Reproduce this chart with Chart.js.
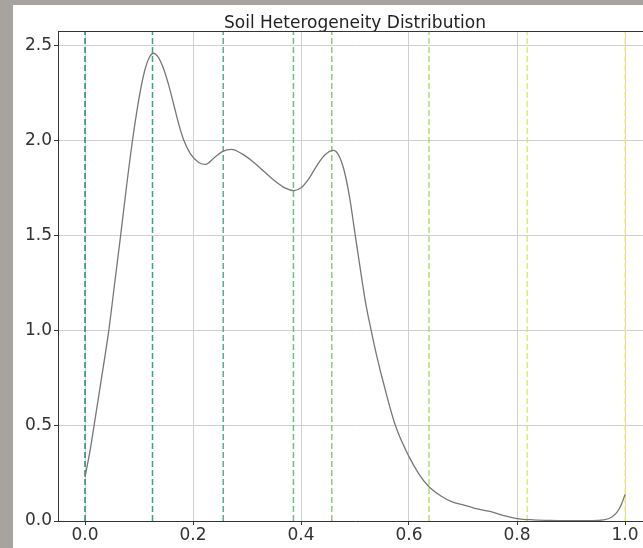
<!DOCTYPE html>
<html>
<head>
<meta charset="utf-8">
<script src="https://cdn.jsdelivr.net/npm/chart.js@4.4.1/dist/chart.umd.min.js"></script>
<style>
  html, body { margin: 0; padding: 0; }
  body { width: 643px; height: 548px; overflow: hidden; background: #a7a39f; position: relative; }
  #fig { position: absolute; left: 13px; top: 5px; width: 630px; height: 543px; background: #fff; overflow: hidden; }
  #chart { position: absolute; left: 0; top: 0; }
</style>
</head>
<body>
<div id="fig"><canvas id="chart" width="660" height="543"></canvas></div>
<script>
// curva de densidad
const densityX = [0, 0.01, 0.0167, 0.03, 0.044, 0.055, 0.066, 0.077, 0.088, 0.10, 0.11, 0.12, 0.127,
    0.135, 0.145, 0.155, 0.165, 0.175, 0.183, 0.195, 0.21, 0.223, 0.24, 0.255, 0.271, 0.29, 0.31,
    0.33, 0.35, 0.37, 0.387, 0.40, 0.415, 0.43, 0.445, 0.46, 0.47, 0.48, 0.49, 0.50, 0.51, 0.52,
    0.53, 0.54, 0.555, 0.575, 0.6, 0.62, 0.637, 0.66, 0.68, 0.70, 0.72, 0.75, 0.78, 0.80, 0.83,
    0.86, 0.9, 0.94, 0.96, 0.975, 0.985, 0.993, 1.0];
const densityY = [0.23, 0.38, 0.5, 0.74, 1.0, 1.25, 1.5, 1.76, 2.0, 2.22, 2.36, 2.44, 2.457,
    2.44, 2.38, 2.29, 2.18, 2.07, 2.0, 1.93, 1.885, 1.873, 1.91, 1.942, 1.952, 1.93, 1.89,
    1.84, 1.79, 1.75, 1.736, 1.75, 1.8, 1.87, 1.925, 1.947, 1.92, 1.84, 1.70, 1.51, 1.32, 1.14,
    1.0, 0.87, 0.7, 0.5, 0.338, 0.24, 0.18, 0.13, 0.10, 0.085, 0.068, 0.05, 0.025, 0.013, 0.006,
    0.003, 0.002, 0.002, 0.006, 0.02, 0.045, 0.085, 0.139];

// lineas verticales discontinuas (colormap summer)
const markerX = [0.0, 0.125, 0.256, 0.386, 0.457, 0.637, 0.819, 1.0];
const markerColors = ['#007a66', '#1f8f70', '#3aa072', '#5aae70', '#7dbd66', '#a8d45e', '#d4e860', '#f2f25a'];

const xTicks = [0.0, 0.2, 0.4, 0.6, 0.8, 1.0];
const yTicks = [0.0, 0.5, 1.0, 1.5, 2.0, 2.5];
const xMin = -0.05, xMax = 1.05;
const yMin = 0, yMax = 2.574;

const datasets = markerX.map((v, i) => ({
    data: [{ x: v, y: yMin }, { x: v, y: yMax }],
    borderColor: markerColors[i] + 'd8',
    borderWidth: 1.5,
    borderDash: [6, 3],
    pointRadius: 0,
    order: 2
}));
datasets.push({
    data: densityX.map((x, i) => ({ x: x, y: densityY[i] })),
    borderColor: '#777777',
    borderWidth: 1.3,
    pointRadius: 0,
    cubicInterpolationMode: 'monotone',
    order: 1
});

// borde superior del area (spine)
const topSpine = {
    id: 'topSpine',
    afterDraw(chart) {
        const a = chart.chartArea, c = chart.ctx;
        c.save();
        c.strokeStyle = '#333';
        c.lineWidth = 1;
        c.beginPath();
        c.moveTo(a.left, a.top + 0.5);
        c.lineTo(a.right, a.top + 0.5);
        c.stroke();
        c.restore();
    }
};

Chart.defaults.font.family = 'DejaVu Sans';

new Chart(document.getElementById('chart').getContext('2d'), {
    type: 'line',
    data: { datasets: datasets },
    options: {
        responsive: false,
        animation: false,
        layout: { padding: { left: 0, right: 21, top: 0, bottom: 0 } },
        plugins: {
            legend: { display: false },
            tooltip: { enabled: false },
            title: {
                display: true,
                fullSize: false,
                text: 'Soil Heterogeneity Distribution',
                color: '#222',
                font: { size: 17, weight: 'normal', lineHeight: 1 },
                padding: { top: 10, bottom: -1 }
            }
        },
        scales: {
            x: {
                type: 'linear',
                min: xMin,
                max: xMax,
                afterBuildTicks: s => { s.ticks = xTicks.map(v => ({ value: v })); },
                afterFit: s => { s.height = 27; },
                border: { color: '#333', width: 1 },
                grid: { color: '#d0d0d0', lineWidth: 1, tickColor: '#333', tickLength: 4 },
                ticks: { color: '#333', font: { size: 17, lineHeight: 1 }, padding: 2, callback: v => v.toFixed(1) }
            },
            y: {
                type: 'linear',
                min: yMin,
                max: yMax,
                afterBuildTicks: s => { s.ticks = yTicks.map(v => ({ value: v })); },
                afterFit: s => { s.width = 45; },
                border: { color: '#333', width: 1 },
                grid: { color: '#d0d0d0', lineWidth: 1, tickColor: '#333', tickLength: 4 },
                ticks: { color: '#333', font: { size: 17 }, padding: 2, callback: v => v.toFixed(1) }
            }
        }
    },
    plugins: [topSpine]
});
</script>
</body>
</html>
